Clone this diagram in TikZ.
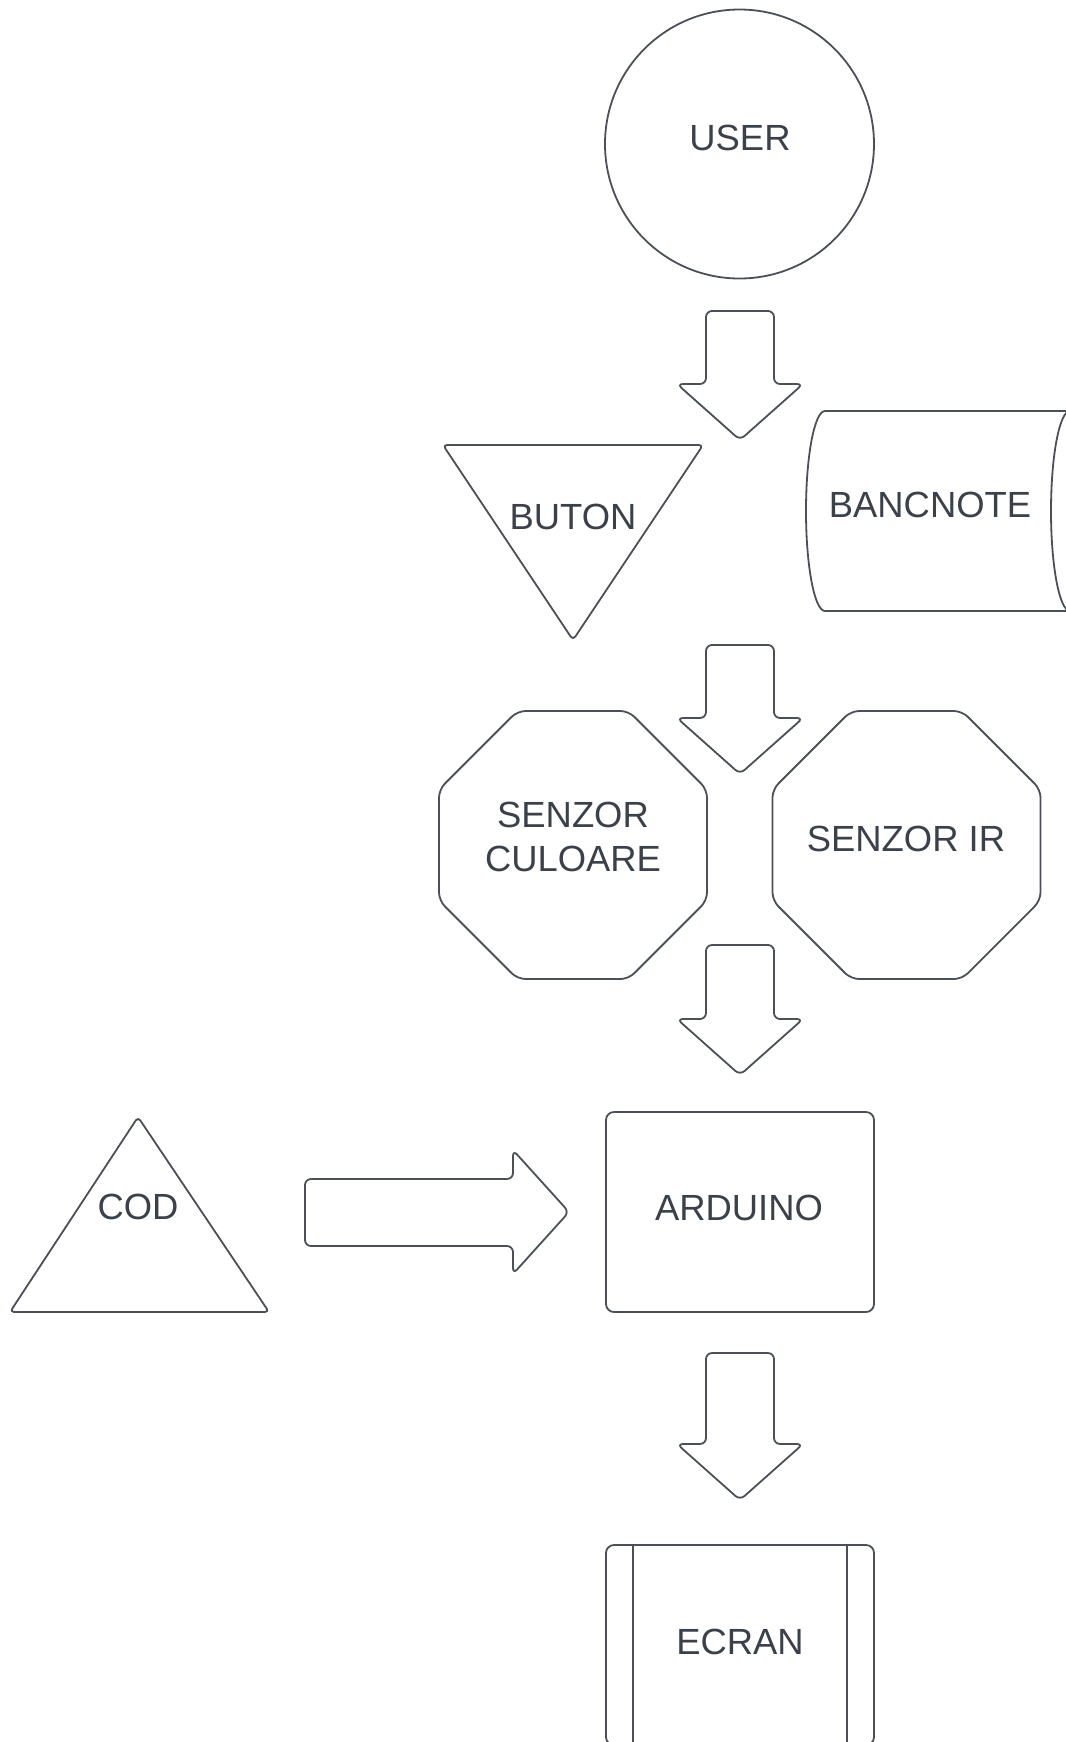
\documentclass[tikz,border=0pt]{standalone}
\usepackage{fontspec}
\setmainfont{Liberation Sans}
\definecolor{ln}{HTML}{4B5058}
\definecolor{tx}{HTML}{3A414A}
\begin{document}
\begin{tikzpicture}[x=0.5pt,y=-0.5pt,
  shp/.style={draw=ln, line width=0.9pt, line join=round},
  lbl/.style={text=tx, font=\fontsize{18.2}{21.6}\selectfont, align=center, inner sep=0pt},
  pics/darrow/.style={code={
    \draw[shp, rounded corners=3pt] (-34,0) -- (34,0) -- (34,#1-56) -- (63,#1-56) -- (0,#1) -- (-63,#1-56) -- (-34,#1-56) -- cycle;
  }},
  pics/octa/.style={code={
    \draw[shp, rounded corners=4pt] (-55.5,-134) -- (55.5,-134) -- (134,-55.5) -- (134,55.5) -- (55.5,134) -- (-55.5,134) -- (-134,55.5) -- (-134,-55.5) -- cycle;
  }}]
\useasboundingbox (0,0) rectangle (1066,1742);
\clip (0,0) rectangle (1066,1742);

% USER
\draw[shp] (739.5,144) circle[radius=134.5];
\node[lbl] (user) at (740,138) {USER};

% arrow 1
\coordinate (a1) at (740,311);
\pic at (a1) {darrow=129};

% BUTON
\draw[shp, rounded corners=2pt] (443,445) -- (703,445) -- (573,640) -- cycle;
\node[lbl] (buton) at (573,517) {BUTON};

% BANCNOTE
\draw[shp, rounded corners=3pt] (825,411) -- (1070,411);
\draw[shp] (1070,411) arc[start angle=-90,end angle=-270,x radius=19,y radius=100];
\draw[shp, rounded corners=3pt] (1070,611) -- (825,611);
\draw[shp] (825,611) arc[start angle=90,end angle=270,x radius=19,y radius=100];
\node[lbl] (bancnote) at (930,505) {BANCNOTE};

% arrow 2
\coordinate (a2) at (740,645);
\pic at (a2) {darrow=129};

% octagons
\pic at (573,845) {octa};
\node[lbl] (senzc) at (573,837) {SENZOR\\CULOARE};
\pic at (906.5,845) {octa};
\node[lbl] (senzir) at (906,839) {SENZOR IR};

% arrow 3
\coordinate (a3) at (740,945);
\pic at (a3) {darrow=130};

% COD
\draw[shp, rounded corners=2pt] (138,1117) -- (269,1312) -- (10,1312) -- cycle;
\node[lbl] (cod) at (138,1207) {COD};

% right arrow
\draw[shp, rounded corners=3pt] (305,1179) -- (513,1179) -- (513,1150) -- (569,1212) -- (513,1274) -- (513,1246) -- (305,1246) -- cycle;

% ARDUINO
\draw[shp, rounded corners=4pt] (606,1112) rectangle (874,1312);
\node[lbl] (arduino) at (739,1208) {ARDUINO};

% arrow 5
\coordinate (a5) at (740,1353);
\pic at (a5) {darrow=147};

% ECRAN
\draw[shp, rounded corners=4pt] (606,1545) rectangle (874,1745);
\draw[shp] (633,1545) -- (633,1745);
\draw[shp] (847,1545) -- (847,1745);
\node[lbl] (ecran) at (740,1642) {ECRAN};
\end{tikzpicture}
\end{document}
